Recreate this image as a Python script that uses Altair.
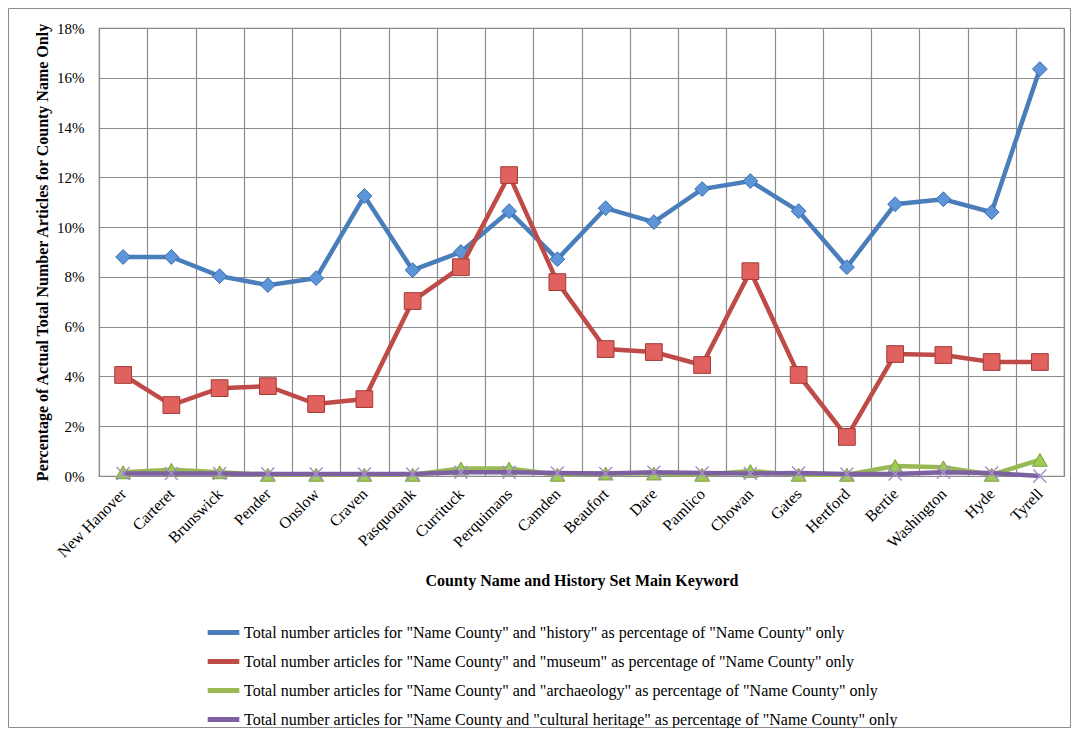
import altair as alt
import pandas as pd

counties = ["New Hanover", "Carteret", "Brunswick", "Pender", "Onslow", "Craven",
            "Pasquotank", "Currituck", "Perquimans", "Camden", "Beaufort", "Dare",
            "Pamlico", "Chowan", "Gates", "Hertford", "Bertie", "Washington", "Hyde", "Tyrell"]

history = [8.8, 8.8, 8.03, 7.67, 7.95, 11.25, 8.27, 9.0, 10.64, 8.71, 10.76, 10.2,
           11.53, 11.85, 10.64, 8.39, 10.92, 11.12, 10.6, 16.35]
museum = [4.06, 2.85, 3.53, 3.61, 2.89, 3.09, 7.03, 8.39, 12.09, 7.79, 5.1, 4.98,
          4.46, 8.23, 4.06, 1.57, 4.9, 4.86, 4.58, 4.58]
archaeology = [0.15, 0.25, 0.15, 0.05, 0.05, 0.05, 0.05, 0.3, 0.3, 0.05, 0.1, 0.1,
               0.05, 0.2, 0.05, 0.05, 0.4, 0.35, 0.05, 0.65]
heritage = [0.1, 0.1, 0.1, 0.08, 0.08, 0.08, 0.08, 0.15, 0.15, 0.12, 0.1, 0.15,
            0.12, 0.1, 0.12, 0.08, 0.08, 0.15, 0.12, 0.0]

series_names = [
    'Total number articles for "Name County" and "history" as percentage of "Name County" only',
    'Total number articles for "Name County" and "museum" as percentage of "Name County" only',
    'Total number articles for "Name County" and "archaeology" as percentage of "Name County" only',
    'Total number articles for "Name County and "cultural heritage" as percentage of "Name County" only',
]
line_colors = ["#4a7ebb", "#be4b48", "#98b954", "#7d60a0"]
marker_fill = ["#5e94d8", "#e0615e", "#9ccc52", None]
marker_stroke = ["#3b6eb0", "#a33b38", "#7e9e40", "#a890cc"]
shapes = ["diamond", "square", "triangle-up", "M-1,-1L1,1M1,-1L-1,1"]
marker_sizes = [220, 280, 220, 170]

y_ticks = [0, 2, 4, 6, 8, 10, 12, 14, 16, 18]

rows = []
for s, vals in zip(series_names, [history, museum, archaeology, heritage]):
    for c, v in zip(counties, vals):
        rows.append({"county": c, "series": s, "value": v})
df = pd.DataFrame(rows)

FONT = "Liberation Serif"
W, H = 965, 448
PAD = {"left": 91, "top": 20, "right": 7, "bottom": 252}

x_enc = alt.X("county:N", sort=counties,
              scale=alt.Scale(paddingInner=0, paddingOuter=0),
              axis=alt.Axis(title="County Name and History Set Main Keyword",
                            labelAngle=315, labelAlign="right", labelBaseline="middle",
                            labelFontSize=16, labelFont=FONT, labelColor="black",
                            labelPadding=15, ticks=False, tickBand="extent",
                            grid=True, gridColor="#8c8c8c", gridWidth=1.2,
                            domainColor="#8c8c8c",
                            titleFont=FONT, titleFontSize=16, titleFontWeight="bold",
                            titleColor="black", titleY=104, titleBaseline="middle"))
y_enc = alt.Y("value:Q",
              scale=alt.Scale(domain=[0, 18], nice=False),
              axis=alt.Axis(title="Percentage of Actual Total Number Articles for County Name Only",
                            values=y_ticks, labelExpr="datum.value + '%'",
                            labelFontSize=15, labelFont=FONT, labelColor="black",
                            ticks=False, tickSize=0, labelPadding=15,
                            grid=True, gridColor="#8c8c8c", gridWidth=1.2,
                            domainColor="#8c8c8c",
                            titleFont=FONT, titleFontSize=16, titleFontWeight="bold",
                            titleColor="black", titleX=-57, titleY=224,
                            titleBaseline="middle", titleAlign="center"))

color_scale = alt.Scale(domain=series_names, range=line_colors)
legend = alt.Legend(title=None, orient="none", legendX=106, legendY=586,
                    direction="vertical", symbolType="stroke",
                    symbolStrokeWidth=5, symbolSize=1000,
                    labelFont=FONT, labelFontSize=16, labelColor="black",
                    labelLimit=1000, rowPadding=0, labelOffset=2)

base = alt.Chart(df)
layers = []

border = alt.Chart(pd.DataFrame({"a": [0]})).mark_rect(
    fill=None, stroke="#8c8c8c", strokeWidth=1).encode(
    x=alt.value(-PAD["left"] + 0.5), x2=alt.value(W + PAD["right"] - 0.5),
    y=alt.value(-PAD["top"] + 0.5), y2=alt.value(H + PAD["bottom"] - 0.5))
layers.append(border)

for i, s in enumerate(series_names):
    sub = base.transform_filter(alt.datum.series == s)
    line = sub.mark_line(strokeWidth=4.5).encode(
        x=x_enc, y=y_enc,
        color=alt.Color("series:N", scale=color_scale, legend=legend))
    layers.append(line)
    if marker_fill[i] is not None:
        pts = sub.mark_point(shape=shapes[i], filled=True, fill=marker_fill[i],
                             stroke=marker_stroke[i], strokeWidth=1, opacity=1,
                             size=marker_sizes[i]).encode(x=x_enc, y=y_enc)
    else:
        pts = sub.mark_point(shape=shapes[i], filled=False, stroke=marker_stroke[i],
                             strokeWidth=1.5, opacity=1,
                             size=marker_sizes[i]).encode(x=x_enc, y=y_enc)
    layers.append(pts)

chart = alt.layer(*layers).properties(
    width=W, height=H, padding=PAD, autosize=alt.AutoSizeParams(type="none")
).configure_view(stroke="#8c8c8c", strokeWidth=1.2)

chart.save("out.html", embed_options={"renderer": "svg", "actions": False})
